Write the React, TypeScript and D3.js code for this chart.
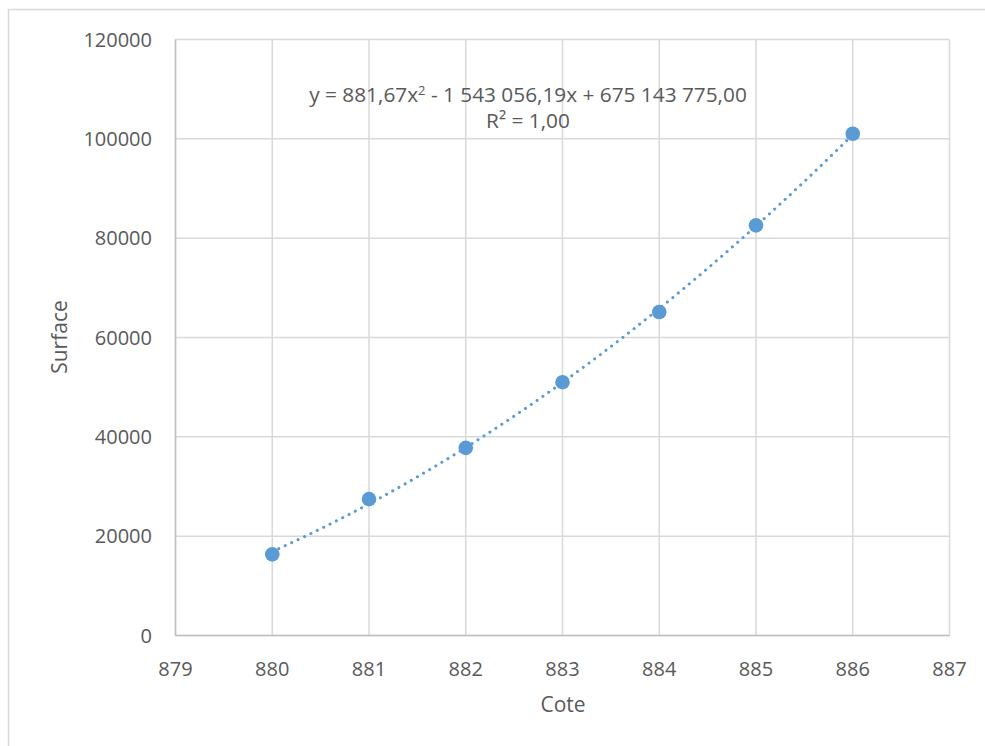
import React from "react";
import * as d3 from "d3";

// Elevation (cote) and surface measurements
const cotes: number[] = [880, 881, 882, 883, 884, 885, 886];
const surfaces: number[] = [16330, 27460, 37780, 51000, 65140, 82580, 101030];

const xTicks: number[] = [879, 880, 881, 882, 883, 884, 885, 886, 887];
const yTicks: number[] = [0, 20000, 40000, 60000, 80000, 100000, 120000];

const equationLine = "y = 881,67x";
const equationRest = " - 1 543 056,19x + 675 143 775,00";
const r2Label = "R² = 1,00";

const W = 985;
const H = 746;
const plot = { left: 175.5, right: 949.5, top: 39.5, bottom: 635.5 };
const textColor = "#595959";
const seriesColor = "#5B9BD5";
const font = "'Open Sans', 'Liberation Sans', sans-serif";

// Least-squares fit of a 2nd-order polynomial (centered x for stability)
function polyFit2(xs: number[], ys: number[]) {
  const mx = d3.mean(xs) as number;
  const n = xs.length;
  let s1 = 0, s2 = 0, s3 = 0, s4 = 0, t0 = 0, t1 = 0, t2 = 0;
  xs.forEach((x0, i) => {
    const x = x0 - mx;
    const y = ys[i];
    s1 += x; s2 += x * x; s3 += x * x * x; s4 += x * x * x * x;
    t0 += y; t1 += x * y; t2 += x * x * y;
  });
  const M = [
    [n, s1, s2, t0],
    [s1, s2, s3, t1],
    [s2, s3, s4, t2],
  ];
  for (let c = 0; c < 3; c++) {
    for (let r = c + 1; r < 3; r++) {
      const f = M[r][c] / M[c][c];
      for (let k = c; k < 4; k++) M[r][k] -= f * M[c][k];
    }
  }
  const sol = [0, 0, 0];
  for (let r = 2; r >= 0; r--) {
    let s = M[r][3];
    for (let k = r + 1; k < 3; k++) s -= M[r][k] * sol[k];
    sol[r] = s / M[r][r];
  }
  return (x: number) => {
    const u = x - mx;
    return sol[0] + sol[1] * u + sol[2] * u * u;
  };
}

export default function App() {
  const x = d3.scaleLinear().domain([879, 887]).range([plot.left, plot.right]);
  const y = d3.scaleLinear().domain([0, 120000]).range([plot.bottom, plot.top]);

  const fit = polyFit2(cotes, surfaces);
  const trendX = d3.range(0, 121).map((i) => 880 + (i * 6) / 120);
  const trendPath = d3
    .line<number>()
    .x((d) => x(d))
    .y((d) => y(fit(d)))(trendX) as string;

  return (
    <svg
      width={W}
      height={H}
      style={{ position: "absolute", left: 0, top: 0, background: "#fff" }}
      fontFamily={font}
    >
      <rect x={0} y={0} width={W} height={H} fill="#fff" />
      {/* chart area frame */}
      <rect x={8.5} y={9.5} width={W + 10} height={H + 10} fill="none" stroke="#D9D9D9" strokeWidth={1.5} />

      {/* gridlines */}
      {yTicks.map((t) => (
        <line key={"gy" + t} x1={plot.left} x2={plot.right} y1={y(t)} y2={y(t)} stroke="#D9D9D9" strokeWidth={1.5} />
      ))}
      {xTicks.map((t) => (
        <line key={"gx" + t} x1={x(t)} x2={x(t)} y1={plot.top} y2={plot.bottom} stroke="#D9D9D9" strokeWidth={1.5} />
      ))}
      {/* axes */}
      <line x1={plot.left} x2={plot.left} y1={plot.top} y2={plot.bottom} stroke="#BFBFBF" strokeWidth={1.5} />
      <line x1={plot.left} x2={plot.right} y1={plot.bottom} y2={plot.bottom} stroke="#BFBFBF" strokeWidth={1.5} />

      {/* tick labels */}
      {yTicks.map((t) => (
        <text key={"ty" + t} x={152} y={y(t)} dy="0.35em" textAnchor="end" fontSize={20} fill={textColor}>
          {t}
        </text>
      ))}
      {xTicks.map((t) => (
        <text key={"tx" + t} x={x(t)} y={676} textAnchor="middle" fontSize={20} fill={textColor}>
          {t}
        </text>
      ))}

      {/* axis titles */}
      <text x={563} y={712} textAnchor="middle" fontSize={21} fill={textColor}>
        Cote
      </text>
      <text
        transform={`translate(67,337) rotate(-90)`}
        textAnchor="middle"
        fontSize={21}
        fill={textColor}
      >
        Surface
      </text>

      {/* polynomial trendline */}
      <path
        d={trendPath}
        fill="none"
        stroke={seriesColor}
        strokeWidth={3}
        strokeLinecap="round"
        strokeDasharray="0.1 7"
      />

      {/* data points */}
      {cotes.map((c, i) => (
        <circle key={"p" + c} cx={x(c)} cy={y(surfaces[i])} r={7.3} fill={seriesColor} />
      ))}

      {/* equation label */}
      <text x={528} y={102} textAnchor="middle" fontSize={20.8} fill={textColor}>
        {equationLine}
        <tspan dy={-7} fontSize={13}>2</tspan>
        <tspan dy={7}>{equationRest}</tspan>
      </text>
      <text x={528} y={128} textAnchor="middle" fontSize={20.8} fill={textColor}>
        {r2Label}
      </text>
    </svg>
  );
}
